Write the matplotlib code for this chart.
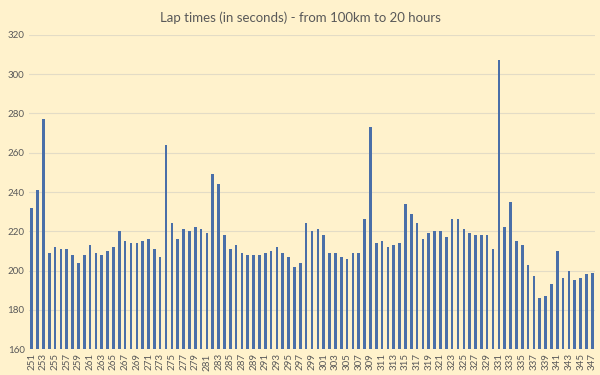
import numpy as np
import matplotlib.pyplot as plt

## lap times, laps 251 to 347
laps = list(range(251, 348))
lap_times = [232, 241, 277, 209, 212, 211, 211, 208, 204, 208,
             213, 209, 208, 210, 212, 220, 215, 214, 214, 215,
             216, 211, 207, 264, 224, 216, 221, 220, 222, 221,
             219, 249, 244, 218, 211, 213, 209, 208, 208, 208,
             209, 210, 212, 209, 207, 202, 204, 224, 220, 221,
             218, 209, 209, 207, 206, 209, 209, 226, 273, 214,
             215, 212, 213, 214, 234, 229, 224, 216, 219, 220,
             220, 217, 226, 226, 221, 219, 218, 218, 218, 211,
             307, 222, 235, 215, 213, 203, 197, 186, 187, 193,
             210, 196, 200, 195, 196, 198, 199]
tick_labels = [str(l) for l in laps[::2]]

bg = '#fff2cc'
text_col = '#595959'
plt.rcParams['font.family'] = ['Lato', 'DejaVu Sans']

fig = plt.figure(figsize=(6, 3.75), dpi=100, facecolor=bg)
ax = fig.add_axes([0.048, 0.069, 0.944, 0.838], facecolor=bg)

x = np.arange(len(laps))
ax.bar(x, lap_times, width=0.45, color='#4a6fa8', zorder=3)

ax.set_ylim(160, 320)
ax.set_yticks(range(160, 321, 20))
ax.set_xlim(-0.5, len(laps) - 0.5)
ax.set_xticks(x[::2])
ax.set_xticklabels(tick_labels, rotation=90)

ax.grid(axis='y', color='#e3dcc6', linewidth=0.8, zorder=0)
for s in ax.spines.values():
    s.set_visible(False)
ax.tick_params(axis='both', length=0, labelsize=7, colors=text_col, pad=3)

fig.suptitle("Lap times (in seconds) - from 100km to 20 hours", y=0.97,
             fontsize=9.5, color=text_col)

plt.savefig('out.png', dpi=100, facecolor=bg)
